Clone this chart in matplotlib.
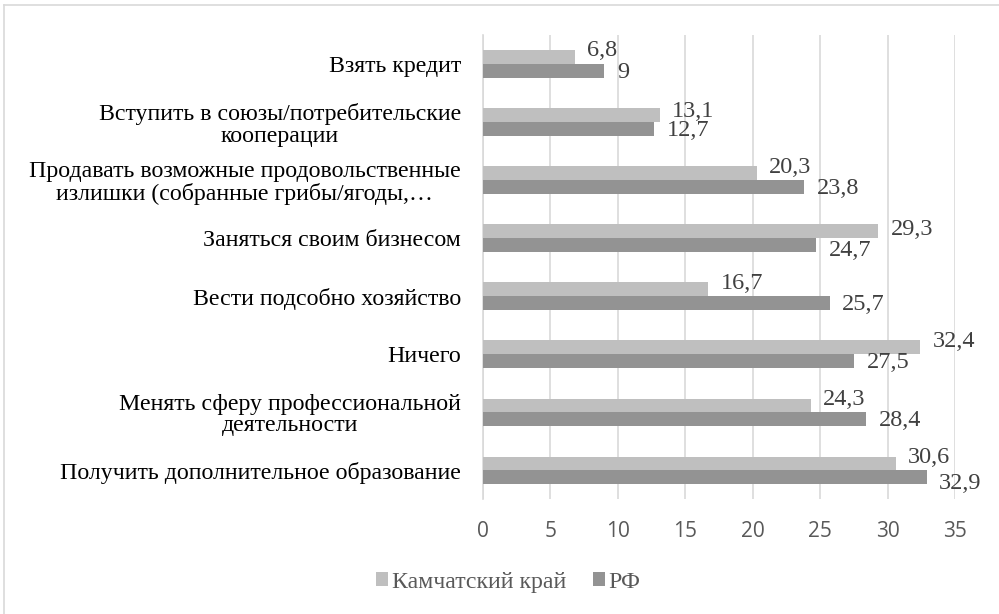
import matplotlib.pyplot as plt
import numpy as np
from matplotlib.lines import Line2D

# Data (top to bottom as shown)
categories = [
    "Взять кредит",
    "Вступить в союзы/потребительские\nкооперации",
    "Продавать возможные продовольственные\nизлишки (собранные грибы/ягоды,…",
    "Заняться своим бизнесом",
    "Вести подсобно хозяйство",
    "Ничего",
    "Менять сферу профессиональной\nдеятельности",
    "Получить дополнительное образование",
]
kamchatka = [6.8, 13.1, 20.3, 29.3, 16.7, 32.4, 24.3, 30.6]
rf = [9, 12.7, 23.8, 24.7, 25.7, 27.5, 28.4, 32.9]
series_names = ["Камчатский край", "РФ"]
xticks = [0, 5, 10, 15, 20, 25, 30, 35]

c_light = "#bfbfbf"
c_dark = "#939393"
grid_c = "#d9d9d9"
serif = "Liberation Serif"

# vertical nudges of the value labels (points), as placed in the original
light_dy = [5, 3, 4, 1, 4, 4, 4, 4]
dark_dy = [-1, -1, -1, -4, -1, -1, -1, -5]


def fmt(v):
    return f"{v:g}".replace(".", ",")


fig = plt.figure(figsize=(9.99, 6.14), dpi=100)
ax = fig.add_axes([0.4835, 0.187, 0.4725, 0.756])

y = np.arange(len(categories))
h = 0.235
ax.barh(y - h / 2, kamchatka, height=h, color=c_light, zorder=3, label=series_names[0])
ax.barh(y + h / 2, rf, height=h, color=c_dark, zorder=3, label=series_names[1])

ax.set_xlim(0, 35)
ax.set_ylim(len(categories) - 0.5, -0.5)
ax.set_xticks(xticks)
ax.set_yticks(y)
ax.set_yticklabels(categories, family=serif, fontsize=17.2,
                   multialignment="center", linespacing=1.05)
ax.tick_params(axis="y", length=0, pad=16)
ax.tick_params(axis="x", length=0, pad=16, labelsize=15, labelcolor="#595959")
for lab in ax.get_xticklabels():
    lab.set_family("Open Sans")

ax.grid(axis="x", color=grid_c, linewidth=1.2, zorder=0)
for s in ["top", "right", "bottom"]:
    ax.spines[s].set_visible(False)
ax.spines["left"].set_color(grid_c)
ax.spines["left"].set_linewidth(1.2)

# data labels
for i in range(len(categories)):
    ax.annotate(fmt(kamchatka[i]), (kamchatka[i], y[i] - h / 2), xytext=(9, light_dy[i]),
                textcoords="offset points", ha="left", va="center",
                family=serif, fontsize=17.5, color="#404040")
    ax.annotate(fmt(rf[i]), (rf[i], y[i] + h / 2), xytext=(9, dark_dy[i]),
                textcoords="offset points", ha="left", va="center",
                family=serif, fontsize=17.5, color="#404040")

leg = fig.legend(loc="center", bbox_to_anchor=(0.509, 0.052), ncol=2, frameon=False,
                 prop={"family": serif, "size": 17.2},
                 handlelength=0.5, handleheight=0.5, handletextpad=0.15,
                 columnspacing=1.12)
for t in leg.get_texts():
    t.set_color("#595959")

# chart border (top and left visible)
fig.add_artist(Line2D([0.004, 1.0], [0.992, 0.992], color="#d9d9d9", lw=1.2))
fig.add_artist(Line2D([0.004, 0.004], [0.0, 0.992], color="#d9d9d9", lw=1.2))

fig.savefig("out.png", dpi=100)
